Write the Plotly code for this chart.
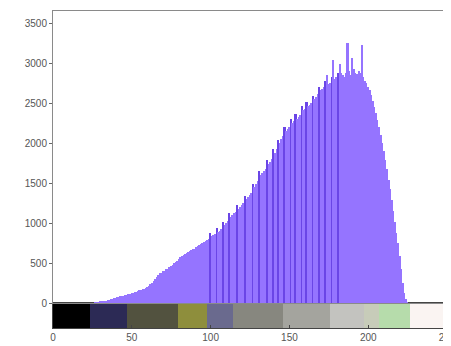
import plotly.graph_objects as go

# ---- data -------------------------------------------------------------
bins = list(range(256))
counts = (
    [0] * 27 +
    [5, 8, 10, 14, 18, 22, 26, 30, 35, 40, 45, 52, 58, 64, 70, 76, 82, 88, 92, 98,   # 27-46
     105, 112, 118, 125, 130, 136, 142, 150, 158, 165, 172, 180, 190, 200, 215,     # 47-61
     240, 255, 275, 300, 320, 345, 370, 380, 395, 405, 420, 430, 445, 462, 480,     # 62-76
     495, 515, 530, 550, 570, 585, 595, 610, 625, 640, 655, 665, 672, 680, 695,     # 77-91
     710, 725, 740, 755, 765, 775, 790, 805, 880, 835, 845, 860, 935, 890, 905,     # 92-106
     925, 1010, 975, 1000, 1030, 1130, 1080, 1100, 1120, 1140, 1230, 1180, 1200,   # 107-119
     1225, 1250, 1340, 1295, 1320, 1345, 1380, 1490, 1450, 1490, 1530, 1650, 1600, # 120-132
     1625, 1650, 1680, 1790, 1735, 1760, 1800, 1920, 1880, 1925, 2040, 2000, 2050, # 133-145
     2090, 2200, 2150, 2180, 2205, 2300, 2250, 2275, 2360, 2300, 2320, 2350, 2460, # 146-158
     2410, 2425, 2510, 2460, 2480, 2500, 2590, 2550, 2580, 2610, 2700, 2660, 2680, # 159-171
     2695, 2780, 2850, 2740, 2750, 2820, 3040, 2800, 2830, 2870, 2990, 2880, 2850, # 172-184
     2830, 2870, 3250, 2900, 2850, 3060, 2920, 2880, 2860, 2900, 2870, 3225, 2820, # 185-197
     2780, 2750, 2700, 2660, 2600, 2530, 2450, 2370, 2290, 2200, 2100, 2000, 1900, # 198-210
     1790, 1670, 1540, 1420, 1290, 1150, 1010, 880, 750, 590, 420, 250, 130, 50,   # 211-224
     10] +                                                                         # 225
    [0] * 30
)
comb_bins = [100, 104, 108, 112, 117, 122, 127, 131, 136, 140, 143, 147, 151,
             154, 158, 161, 165, 169, 173, 177, 181]

# colormap strip under the histogram (value edges and colours)
cmap_edges = [0, 23.5, 47, 79, 98, 114, 146, 176, 197, 207, 226.5, 256]
cmap_colors = ["#000000", "#2c2a55", "#52523f", "#8e8e3c", "#6a6a8e", "#87877f",
               "#a4a49e", "#c3c3bf", "#c7ccb9", "#b6dcab", "#faf4f2"]

x_ticks = [0, 50, 100, 150, 200, 250]
y_ticks = [0, 500, 1000, 1500, 2000, 2500, 3000, 3500]

# ---- figure -----------------------------------------------------------
bar_colors = ["#6a45e6" if b in comb_bins else "#9574ff" for b in bins]

fig = go.Figure()
fig.add_trace(go.Bar(
    x=bins, y=counts, width=1, xaxis="x2", yaxis="y",
    marker=dict(color=bar_colors, line=dict(width=0)),
    hoverinfo="x+y", showlegend=False))

centers = [(a + b) / 2 for a, b in zip(cmap_edges[:-1], cmap_edges[1:])]
widths = [b - a for a, b in zip(cmap_edges[:-1], cmap_edges[1:])]
fig.add_trace(go.Bar(
    x=centers, y=[1] * len(centers), width=widths, base=0,
    xaxis="x", yaxis="y2",
    marker=dict(color=cmap_colors, line=dict(width=0)),
    hoverinfo="skip", showlegend=False))

tick_font = dict(family="Liberation Sans, Arial, sans-serif", size=10, color="#555555")
split = 25 / 317

# the page body adds an 8 px offset, so the figure is 8 px smaller each way
fig.update_layout(
    width=443, height=338,
    margin=dict(l=45, r=0, t=3, b=18, autoexpand=False),
    paper_bgcolor="white", plot_bgcolor="white",
    bargap=0,
    xaxis=dict(range=[0, 252.5], anchor="y2", tickvals=x_ticks,
               ticks="inside", ticklen=3, tickcolor="#444444",
               showgrid=False, zeroline=False, showline=True, mirror=True,
               linecolor="#444444", linewidth=1, tickfont=tick_font,
               automargin=False, ticklabeloverflow="allow", ticklabelstandoff=0),
    xaxis2=dict(range=[0, 252.5], anchor="y", matches="x", overlaying="x",
                showticklabels=False, ticks="", showgrid=False, zeroline=False,
                showline=True, mirror=True, linecolor="#8a8a8a", linewidth=1,
                automargin=False),
    yaxis=dict(domain=[split, 1], range=[0, 3650], tickvals=y_ticks,
               ticks="outside", ticklen=3, tickcolor="#666666",
               showgrid=False, zeroline=False, showline=True,
               linecolor="#8a8a8a", linewidth=1, tickfont=tick_font,
               automargin=False),
    yaxis2=dict(domain=[0, split], range=[0, 1], showticklabels=False,
                ticks="", showgrid=False, zeroline=False, showline=True,
                mirror=True, linecolor="#444444", linewidth=1, automargin=False),
)

fig.write_html("out.html")
